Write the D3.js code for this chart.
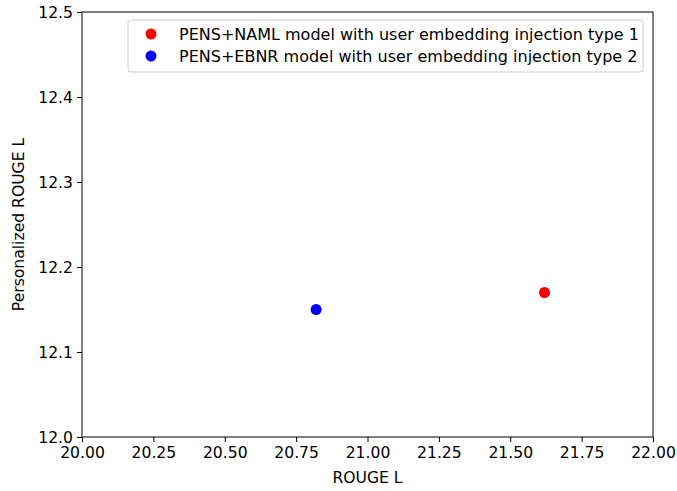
<!DOCTYPE html>
<html>
<head>
<script src="https://d3js.org/d3.v7.min.js"></script>
<style>
  body { margin: 0; background: #fff; }
  text { font-family: "DejaVu Sans", sans-serif; fill: #000; }
</style>
</head>
<body>
<svg width="677" height="491"></svg>
<script>
// data
var seriesNames = ["PENS+NAML model with user embedding injection type 1",
                   "PENS+EBNR model with user embedding injection type 2"];
var seriesColors = ["#ff0000", "#0000ff"];
var rougeL = [21.62, 20.82];
var personalizedRougeL = [12.17, 12.15];
var xTicks = [20.00, 20.25, 20.50, 20.75, 21.00, 21.25, 21.50, 21.75, 22.00];
var yTicks = [12.0, 12.1, 12.2, 12.3, 12.4, 12.5];

var fs = "15.6px";
var svg = d3.select("svg");
var margin = {top: 12, right: 24, bottom: 54, left: 82};
var width = 677 - margin.left - margin.right,
    height = 491 - margin.top - margin.bottom;
var g = svg.append("g").attr("transform", "translate(" + margin.left + "," + margin.top + ")");

var x = d3.scaleLinear().domain([20, 22]).range([0, width]);
var y = d3.scaleLinear().domain([12, 12.5]).range([height, 0]);

var xAxis = g.append("g")
  .attr("transform", "translate(0," + height + ")")
  .call(d3.axisBottom(x).tickValues(xTicks).tickFormat(d3.format(".2f")).tickSize(5).tickPadding(5));
var yAxis = g.append("g")
  .call(d3.axisLeft(y).tickValues(yTicks).tickFormat(d3.format(".1f")).tickSize(5).tickPadding(4));

[xAxis, yAxis].forEach(function(a) {
  a.select(".domain").remove();
  a.selectAll("line").attr("stroke", "#000").attr("stroke-width", 1);
  a.selectAll("text").style("font-size", fs).style("font-family", "DejaVu Sans");
});

// frame
g.append("rect")
  .attr("width", width).attr("height", height)
  .attr("fill", "none").attr("stroke", "#000").attr("stroke-width", 1);

// points
g.selectAll("circle.pt")
  .data(rougeL)
  .enter().append("circle")
  .attr("class", "pt")
  .attr("cx", function(d) { return x(d); })
  .attr("cy", function(d, i) { return y(personalizedRougeL[i]); })
  .attr("r", 5.5)
  .attr("fill", function(d, i) { return seriesColors[i]; });

// axis labels
svg.append("text")
  .attr("x", margin.left + width / 2).attr("y", 483)
  .attr("text-anchor", "middle").style("font-size", fs)
  .text("ROUGE L");
svg.append("text")
  .attr("transform", "translate(24," + (margin.top + height / 2) + ") rotate(-90)")
  .attr("text-anchor", "middle").style("font-size", fs)
  .text("Personalized ROUGE L");

// legend
var legend = svg.append("g").attr("transform", "translate(128,20)");
legend.append("rect")
  .attr("width", 515).attr("height", 52).attr("rx", 3)
  .attr("fill", "#fff").attr("fill-opacity", 0.8)
  .attr("stroke", "#cccccc").attr("stroke-width", 1);
seriesNames.forEach(function(name, i) {
  legend.append("circle")
    .attr("cx", 23).attr("cy", 14 + i * 22).attr("r", 5.5)
    .attr("fill", seriesColors[i]);
  legend.append("text")
    .attr("x", 51).attr("y", 14 + i * 22).attr("dy", "0.35em")
    .style("font-size", "16px")
    .text(name);
});
</script>
</body>
</html>
